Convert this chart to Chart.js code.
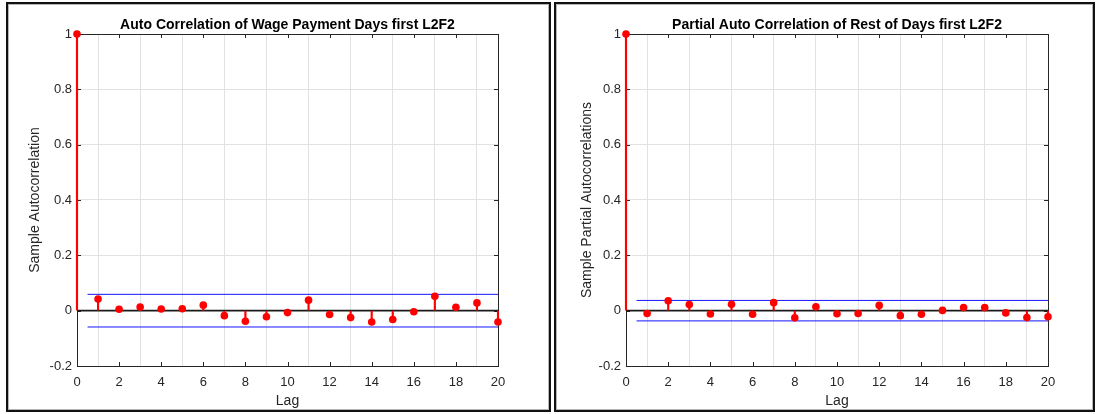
<!DOCTYPE html>
<html>
<head>
<meta charset="utf-8">
<script src="https://cdn.jsdelivr.net/npm/chart.js@4.4.1/dist/chart.umd.min.js"></script>
<style>
  body { margin: 0; background: #fff; width: 1096px; height: 414px; position: relative; overflow: hidden; }
  .panel { position: absolute; top: 2px; height: 406px; border: 2px solid #111; box-shadow: inset 0 0 0 1px #b5b5b5; }
  #p1 { left: 6px; width: 541px; }
  #p2 { left: 554px; width: 537px; }
  canvas { position: absolute; top: 4px; }
  #acfChart { left: 9px; }
  #pacfChart { left: 557px; }
</style>
</head>
<body>
<div class="panel" id="p1"></div>
<div class="panel" id="p2"></div>
<canvas id="acfChart" width="538" height="406"></canvas>
<canvas id="pacfChart" width="535" height="406"></canvas>
<script>
const lags = [0, 1, 2, 3, 4, 5, 6, 7, 8, 9, 10, 11, 12, 13, 14, 15, 16, 17, 18, 19, 20];
const xTicks = [0, 2, 4, 6, 8, 10, 12, 14, 16, 18, 20];
const yTicks = [-0.2, 0, 0.2, 0.4, 0.6, 0.8, 1];

// wage payment days, sample autocorrelation
const acf = [1, 0.042, 0.005, 0.013, 0.006, 0.007, 0.020, -0.018, -0.038, -0.022, -0.007,
             0.038, -0.014, -0.025, -0.041, -0.032, -0.004, 0.052, 0.012, 0.028, -0.041];
const acfBound = 0.059;

// rest of days, sample partial autocorrelation
const pacf = [1, -0.010, 0.036, 0.022, -0.012, 0.023, -0.013, 0.029, -0.026, 0.014, -0.011,
              -0.010, 0.019, -0.018, -0.013, 0.001, 0.011, 0.011, -0.008, -0.025, -0.022];
const pacfBound = 0.037;

const FONT = "'Liberation Sans', Arial, sans-serif";
const AXIS = '#262626';

// box around the plot area, inward ticks and the centred bold title
const boxPlugin = {
  id: 'box',
  beforeDatasetsDraw(chart) {
    const {ctx, chartArea: a, scales: {x, y}} = chart;
    ctx.save();
    ctx.strokeStyle = AXIS;
    ctx.lineWidth = 1;
    ctx.strokeRect(a.left + 0.5, a.top + 0.5, a.right - a.left, a.bottom - a.top);
    ctx.beginPath();
    xTicks.forEach(v => {
      const px = Math.round(x.getPixelForValue(v)) + 0.5;
      ctx.moveTo(px, a.bottom); ctx.lineTo(px, a.bottom - 4);
      ctx.moveTo(px, a.top); ctx.lineTo(px, a.top + 4);
    });
    yTicks.forEach(v => {
      const py = Math.round(y.getPixelForValue(v)) + 0.5;
      ctx.moveTo(a.left, py); ctx.lineTo(a.left + 4, py);
      ctx.moveTo(a.right, py); ctx.lineTo(a.right - 4, py);
    });
    ctx.stroke();
    ctx.restore();
  },
  afterDraw(chart, args, opts) {
    const {ctx, chartArea: a} = chart;
    ctx.save();
    ctx.font = 'bold 14px ' + FONT;
    ctx.fillStyle = '#000';
    ctx.textAlign = 'center';
    ctx.textBaseline = 'alphabetic';
    ctx.fillText(opts.text, (a.left + a.right) / 2, a.top - 5);
    ctx.restore();
  }
};

function makeChart(id, title, yTitle, values, bound, chartLeft, rightPad, yTitlePad) {
  const pts = lags.map((l, i) => ({x: l, y: values[i]}));
  return new Chart(id, {
    type: 'scatter',
    data: {
      datasets: [
        {
          data: pts, order: 0, clip: false,
          pointRadius: 3.8, pointBackgroundColor: '#ff0000', pointBorderWidth: 0
        },
        {
          type: 'bar', data: pts, order: 1, clip: false,
          backgroundColor: '#ff0000', barThickness: 1.5
        },
        {
          type: 'line', order: 2, borderColor: '#1515ff', borderWidth: 1, pointRadius: 0,
          data: [{x: 0.5, y: bound}, {x: 20, y: bound}]
        },
        {
          type: 'line', order: 2, borderColor: '#1515ff', borderWidth: 1, pointRadius: 0,
          data: [{x: 0.5, y: -bound}, {x: 20, y: -bound}]
        },
        {
          type: 'line', order: 3, borderColor: '#1a1a1a', borderWidth: 1.6, pointRadius: 0,
          data: [{x: 0, y: 0}, {x: 20, y: 0}]
        }
      ]
    },
    options: {
      responsive: false,
      animation: false,
      events: [],
      layout: { padding: { top: 30, right: rightPad, bottom: 0, left: 0 } },
      plugins: {
        legend: { display: false },
        tooltip: { enabled: false },
        box: { text: title }
      },
      scales: {
        x: {
          type: 'linear', min: 0, max: 20, offset: false,
          afterFit: s => { s.height = 44; },
          afterBuildTicks: s => { s.ticks = xTicks.map(v => ({value: v})); },
          grid: { color: '#e2e2e2', drawTicks: false },
          border: { color: AXIS, width: 1 },
          ticks: { padding: 9, color: AXIS, font: { family: FONT, size: 13 } },
          title: { display: true, text: 'Lag', color: AXIS, padding: 0, font: { family: FONT, size: 14 } }
        },
        y: {
          type: 'linear', min: -0.2, max: 1,
          afterFit: s => { s.width = chartLeft; },
          afterBuildTicks: s => { s.ticks = yTicks.map(v => ({value: v})); },
          grid: { color: '#e2e2e2', drawTicks: false },
          border: { color: AXIS, width: 1 },
          ticks: {
            padding: 5, color: AXIS, font: { family: FONT, size: 13 },
            callback: v => String(+v.toFixed(1))
          },
          title: { display: true, text: yTitle, color: AXIS, padding: { top: yTitlePad, bottom: 0 }, font: { family: FONT, size: 14 } }
        }
      }
    },
    plugins: [boxPlugin]
  });
}

makeChart('acfChart', 'Auto Correlation of Wage Payment Days first L2F2', 'Sample Autocorrelation',
          acf, acfBound, 68, 49, 18);
makeChart('pacfChart', 'Partial Auto Correlation of Rest of Days first L2F2', 'Sample Partial Autocorrelations',
          pacf, pacfBound, 69, 44, 22);
</script>
</body>
</html>
